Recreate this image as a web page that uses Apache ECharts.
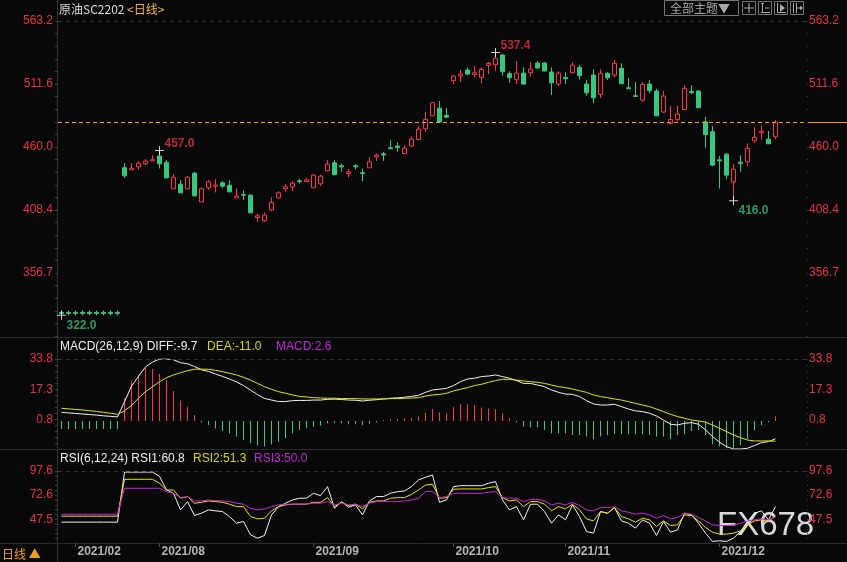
<!DOCTYPE html>
<html><head><meta charset="utf-8">
<script src="https://cdn.jsdelivr.net/npm/echarts@6/dist/echarts.min.js"></script>
<style>html,body{margin:0;padding:0;background:#090909;overflow:hidden}#c{width:847px;height:562px}</style>
</head><body><div id="c"></div>
<script>
const dates = [
'2021/01/28','2021/01/29',
'2021/02/01','2021/02/02','2021/02/03','2021/02/04','2021/02/05','2021/02/08','2021/02/09',
'2021/07/26','2021/07/27','2021/07/28','2021/07/29','2021/07/30',
'2021/08/02','2021/08/03','2021/08/04','2021/08/05','2021/08/06','2021/08/09','2021/08/10','2021/08/11','2021/08/12','2021/08/13',
'2021/08/16','2021/08/17','2021/08/18','2021/08/19','2021/08/20','2021/08/23','2021/08/24','2021/08/25','2021/08/26','2021/08/27','2021/08/30','2021/08/31',
'2021/09/01','2021/09/02','2021/09/03','2021/09/06','2021/09/07','2021/09/08','2021/09/09','2021/09/10','2021/09/13','2021/09/14',
'2021/09/15','2021/09/16','2021/09/17','2021/09/22','2021/09/23','2021/09/24','2021/09/27','2021/09/28','2021/09/29','2021/09/30',
'2021/10/08','2021/10/11','2021/10/12','2021/10/13','2021/10/14','2021/10/15','2021/10/18','2021/10/19','2021/10/20','2021/10/21',
'2021/10/22','2021/10/25','2021/10/26','2021/10/27','2021/10/28','2021/10/29',
'2021/11/01','2021/11/02','2021/11/03','2021/11/04','2021/11/05','2021/11/08','2021/11/09','2021/11/10','2021/11/11','2021/11/12',
'2021/11/15','2021/11/16','2021/11/17','2021/11/18','2021/11/19','2021/11/22','2021/11/23','2021/11/24','2021/11/25','2021/11/26','2021/11/29','2021/11/30',
'2021/12/01','2021/12/02','2021/12/03','2021/12/06','2021/12/07','2021/12/08','2021/12/09','2021/12/10','2021/12/13',
'2021/12/14','2021/12/15','2021/12/16','2021/12/17'];
const monthLabels = ['2021/02/01','2021/08/02','2021/09/01','2021/10/08','2021/11/01','2021/12/01'];

// [open, high, low, close]
const kline = [
[324.4,326.0,322.0,323.6],[324.4,326.0,322.0,323.6],[324.4,326.0,322.0,323.6],[324.4,326.0,322.0,323.6],[324.4,326.0,322.0,323.6],
[324.4,326.0,322.0,323.6],[324.4,326.0,322.0,323.6],[324.4,326.0,322.0,323.6],[324.4,326.0,322.0,323.6],
[442.9,446.7,434.7,436.3],[441.3,446.7,441.3,442.6],[443.7,448.4,441.3,446.7],[446.2,450.0,445.1,448.4],[448.6,453.3,448.6,449.5],
[452.5,457.0,442.4,446.2],[447.5,449.2,434.3,434.7],[425.7,437.7,425.5,435.2],[429.5,432.8,422.2,422.4],[425.7,436.3,425.5,435.2],
[438.5,439.6,419.5,419.9],[415.0,426.8,414.8,425.7],[426.5,433.0,424.6,431.4],[427.9,433.6,422.7,428.7],[430.6,432.0,426.5,427.9],
[428.7,432.8,423.0,423.2],[418.3,425.9,418.3,419.7],[421.0,424.3,416.4,420.5],[420.5,421.0,405.8,406.0],[402.2,405.4,398.6,403.5],
[399.4,406.3,398.6,404.1],[408.4,418.8,407.4,414.5],[418.3,423.8,417.7,422.4],[425.9,429.5,423.2,427.3],[427.3,432.0,424.0,430.3],
[432.2,433.9,430.0,431.7],[431.7,434.7,431.7,433.0],[426.5,437.7,426.5,436.9],[429.8,437.2,428.1,436.1],[440.4,449.2,440.4,445.9],
[447.0,449.2,437.2,437.2],[444.5,446.2,439.6,443.7],[438.2,441.8,435.0,439.6],[444.5,445.9,441.8,443.7],[438.8,442.3,431.9,438.2],
[442.9,451.4,442.9,447.8],[451.9,454.6,448.6,453.3],[454.4,456.0,448.6,453.4],[459.3,465.6,458.5,458.5],[460.7,463.7,456.0,459.6],
[454.6,461.2,454.1,459.0],[460.7,468.6,460.1,466.4],[466.1,477.1,465.6,474.6],[474.9,488.8,472.4,482.5],[485.5,497.0,485.5,496.2],
[491.8,497.6,480.4,480.4],[485.8,491.8,483.6,484.4],[514.3,518.9,511.5,518.1],[518.1,523.0,513.4,519.7],[523.0,525.2,518.9,519.7],
[519.4,526.3,517.0,520.8],[517.0,525.2,512.1,523.5],[526.8,529.6,519.7,528.5],[527.4,537.4,522.5,532.6],[535.3,536.1,518.4,521.6],
[520.0,521.9,512.6,516.7],[515.1,530.4,511.5,520.5],[520.5,525.2,511.5,511.5],[520.8,529.6,517.5,523.8],[528.7,530.4,524.6,524.6],
[528.7,529.6,522.2,522.2],[521.4,525.2,502.5,512.6],[511.5,521.9,509.9,520.5],[517.0,521.4,511.5,515.9],[520.8,529.3,520.8,527.1],
[525.2,527.1,515.3,518.4],[511.5,514.8,502.0,504.4],[518.9,523.6,495.7,500.3],[503.1,523.6,500.3,520.3],[520.3,521.1,514.8,516.7],
[518.9,531.2,517.0,528.5],[524.4,528.5,511.8,511.8],[508.5,516.4,507.7,507.7],[501.9,513.2,501.1,501.4],[498.4,513.4,497.0,511.2],
[511.5,514.8,503.9,506.1],[505.8,507.4,485.5,485.5],[488.6,506.1,488.0,501.7],[479.3,493.7,479.3,482.5],[482.5,493.5,480.9,486.9],
[490.7,510.7,490.7,508.0],[505.5,510.7,503.3,504.4],[505.8,506.6,492.1,492.1],[480.6,484.7,459.3,470.2],[472.4,477.1,444.5,445.1],
[449.4,452.5,425.9,448.6],[454.1,454.7,433.6,436.9],[431.4,445.9,416.0,441.8],[447.5,453.0,439.6,446.4],[447.8,462.9,444.3,458.8],
[465.0,476.0,463.4,467.8],[471.9,477.6,466.1,473.0],[466.4,473.0,462.6,462.6],[468.3,482.0,466.4,480.4]];

const diff = [4.7,4.4,4.1,3.8,3.5,3.2,2.8,2.5,2.2,
10.5,19.0,24.3,29.5,32.1,33.8,33.8,33.4,31.8,31.2,
29.7,27.9,27.0,25.6,24.3,
22.9,21.3,19.3,16.8,14.4,12.3,11.4,10.6,10.6,11.1,11.2,11.2,11.4,11.4,11.8,
11.9,11.7,11.4,11.3,10.9,11.3,11.6,12.0,12.4,12.6,12.9,13.4,14.0,
15.6,16.9,17.3,17.8,19.3,21.4,22.9,23.3,24.2,24.5,25.1,24.2,23.3,22.0,20.5,20.5,19.6,18.7,16.9,15.6,
14.7,14.5,13.3,11.1,9.3,8.7,8.7,9.1,7.8,6.5,5.5,5.1,4.2,2.7,0.5,-1.8,-2.2,-1.3,-0.9,-1.8,
-4.9,-8.5,-11.6,-14.0,-15.3,-15.3,-14.9,-13.4,-11.8,-11.3,-9.7];
const dea = [6.9,6.6,6.3,6.0,5.6,5.2,4.7,4.2,3.6,
5.5,8.4,12.4,16.0,18.7,21.4,23.6,25.1,26.3,27.4,
28.2,28.3,28.2,27.6,26.9,
26.0,25.1,23.8,22.3,20.5,18.7,17.3,16.0,15.1,14.2,13.4,13.1,12.7,12.5,12.4,
12.4,12.2,12.2,12.2,12.0,12.0,12.0,12.0,12.2,12.2,12.4,12.5,12.7,
13.6,14.2,14.5,15.1,16.4,17.3,18.2,19.3,20.0,21.1,22.0,22.7,22.7,22.3,21.8,21.4,21.1,20.5,19.6,18.7,
18.2,17.4,16.5,15.6,14.2,13.3,12.7,12.0,11.4,10.5,9.6,8.7,7.8,6.5,5.1,3.6,2.4,1.5,0.5,0.0,
-0.7,-2.2,-4.0,-5.8,-7.6,-9.1,-10.4,-10.9,-10.9,-10.9,-11.0];
const macdBar = [-4.4,-4.4,-4.4,-4.4,-4.4,-4.4,-4.4,-4.4,-4.4,
12.4,22.0,25.4,28.7,28.3,25.6,22.3,16.4,11.1,7.8,3.3,
-0.7,-2.2,-4.0,-5.5,-6.9,-8.5,-10.4,-12.2,-13.4,-14.0,-12.7,-11.3,-9.4,-6.7,-4.9,-4.0,-3.1,-2.5,-1.3,-1.3,-1.3,-1.8,-1.8,-2.2,-1.5,-0.7,
0.5,0.9,1.1,1.5,1.8,2.4,
4.5,6.5,4.7,4.2,7.8,9.3,9.1,8.7,7.3,6.9,6.5,4.2,1.5,-0.7,-3.1,-3.6,-3.6,-4.9,-6.7,-6.7,
-6.7,-7.6,-7.6,-8.5,-10.0,-8.5,-7.6,-7.3,-7.3,-7.3,-7.3,-7.3,-7.6,-8.5,-8.5,-9.8,-7.6,-7.3,-5.5,-4.9,
-7.6,-12.7,-14.0,-14.9,-14.9,-13.1,-9.8,-4.9,-2.2,-0.7,2.6];

const rsi1 = [44.6,44.6,44.6,44.6,44.6,44.6,44.6,44.6,44.6,
96.5,96.5,96.5,96.5,96.5,
92.0,78.0,74.5,57.3,65.9,51.4,53.9,57.3,56.3,55.6,50.4,43.5,45.3,31.5,28.0,30.8,52.1,60.7,64.2,67.6,69.4,69.4,
74.5,72.1,81.4,59.0,65.9,60.1,62.5,52.1,66.6,71.1,71.1,74.5,76.2,76.9,81.4,88.3,
91.1,93.5,65.2,67.6,81.4,82.4,82.4,82.4,82.4,84.9,86.6,67.6,57.3,60.7,47.0,63.2,63.2,55.6,43.5,52.1,
47.0,62.5,50.4,34.9,33.2,55.6,53.9,59.7,45.9,43.5,38.4,47.0,43.5,30.8,45.3,34.2,36.6,53.9,52.1,43.5,
33.2,24.6,25.3,24.6,28.0,34.9,45.3,53.9,56.3,47.0,60.8];
const rsi2 = [50.8,50.8,50.8,50.8,50.8,50.8,50.8,50.8,50.8,
89.0,89.0,89.0,89.0,89.0,
84.9,77.9,77.9,69.4,71.1,64.2,65.2,66.6,65.9,65.2,63.2,60.7,60.7,50.4,48.0,48.7,56.3,60.7,62.5,63.2,63.2,63.2,
65.2,65.2,70.0,60.7,65.2,61.8,63.2,58.3,65.2,66.6,66.6,69.4,70.0,70.0,73.5,77.9,
83.1,83.8,69.4,70.0,78.7,79.0,79.0,79.0,79.0,80.4,81.4,70.0,66.6,67.6,60.7,65.9,65.9,63.2,56.3,60.7,
58.3,63.2,57.3,48.0,45.9,55.6,53.9,59.7,50.4,48.0,44.6,48.7,47.0,40.1,45.9,41.1,41.8,52.1,51.4,45.9,
39.1,34.2,32.2,32.2,33.2,35.6,41.8,45.9,47.0,45.3,51.3];
const rsi3 = [52.8,52.8,52.8,52.8,52.8,52.8,52.8,52.8,52.8,
79.7,79.7,79.7,79.7,79.7,79.7,
76.2,74.5,70.0,71.1,66.6,66.6,67.6,66.9,66.6,65.9,64.2,63.2,59.0,57.3,58.3,60.7,62.5,63.2,63.2,63.2,63.5,
64.2,64.2,65.9,62.5,64.2,62.5,63.2,60.7,64.2,65.9,65.9,65.9,65.9,66.6,67.6,69.4,
76.2,76.2,70.0,71.1,74.5,74.5,74.5,74.5,74.5,75.6,76.2,70.0,69.4,69.4,65.9,68.3,68.3,66.6,62.5,64.2,
62.5,65.2,61.8,57.3,56.3,59.7,59.7,60.7,56.3,54.9,52.8,53.9,52.1,48.7,51.4,48.0,49.4,53.9,52.8,49.4,
45.9,41.8,41.1,41.1,41.8,43.5,45.9,47.0,48.0,47.0,50.0];

const mainTicks = [563.2, 511.6, 460.0, 408.4, 356.7];
const macdTicks = [33.8, 17.3, 0.8];
const rsiTicks = [97.6, 72.6, 47.5];
const extremeIdx = [14, 62, 0, 96];
const extremeVal = [457.0, 537.4, 322.0, 416.0];
const extremeIsHigh = [true, true, false, false];

const FONT = "'Liberation Sans', Arial, 'Noto Sans CJK SC', sans-serif";
const CJK = "'Noto Sans CJK SC', 'Liberation Sans', sans-serif";
const RED = '#ff3344', GREEN = '#35c97f', AXRED = '#e8303f', BG = '#090909';

function stepTicks(top, bottom, step) {
  const out = [];
  for (let v = top; v >= bottom - 1e-6; v -= step) out.push(+v.toFixed(3));
  return out;
}
function yPair(g, min, max, labels, minor) {
  const lab = { customValues: labels, color: AXRED, fontSize: 12, fontFamily: FONT,
    formatter: v => Number(v).toFixed(1) };
  const base = { type: 'value', gridIndex: g, min: min, max: max,
    splitLine: { show: false }, axisLine: { show: false } };
  return [
    Object.assign({}, base, { position: 'left', axisLabel: Object.assign({}, lab, { margin: 5 }),
      axisTick: { show: true, customValues: minor, length: 3, lineStyle: { color: '#3c3c3c' } } }),
    Object.assign({}, base, { position: 'right', axisLabel: Object.assign({}, lab, { margin: 2 }),
      axisTick: { show: true, customValues: minor, length: 1, lineStyle: { color: '#3c3c3c' } } })
  ];
}
const showLabel = (i, v) => monthLabels.indexOf(v) >= 0;

const MAIN_MIN = 305.075, MAIN_MAX = 563.2;
const yAxes = [].concat(
  yPair(0, MAIN_MIN, MAIN_MAX, mainTicks, stepTicks(MAIN_MAX, MAIN_MIN, 10.325)),
  yPair(1, -15.3, 33.8, macdTicks, stepTicks(33.8, -15.3, 3.3)),
  yPair(2, 23, 97.6, rsiTicks, stepTicks(97.6, 23, 5))
);
const xAxes = [0, 1, 2].map(g => ({
  type: 'category', gridIndex: g, data: dates, boundaryGap: true,
  axisLine: { show: false }, splitLine: { show: false },
  axisTick: { show: g === 2, alignWithLabel: true, interval: showLabel, length: 4, lineStyle: { color: '#4a4a4a' } },
  axisLabel: { show: g === 2, interval: showLabel, formatter: v => v.slice(0, 7), align: 'left',
    padding: [0, 0, 0, 2], color: '#b4b4b4', fontWeight: 'bold', fontSize: 12, fontFamily: FONT, margin: 3 }
}));

const lastClose = kline[kline.length - 1][3];
const last = a => a[a.length - 1].toFixed(1);

const chart = echarts.init(document.getElementById('c'), null, { renderer: 'canvas' });
chart.setOption({
  backgroundColor: BG,
  animation: false,
  grid: [
    { left: 58, right: 40, top: 21, height: 315 },
    { left: 58, right: 40, top: 359, height: 90 },
    { left: 58, right: 40, top: 471, height: 72 }
  ],
  xAxis: xAxes,
  yAxis: yAxes,
  series: [
    { type: 'candlestick', xAxisIndex: 0, yAxisIndex: 0, barWidth: 5,
      data: kline.map(r => [r[0], r[3], r[2], r[1]]),
      itemStyle: { color: BG, color0: GREEN, borderColor: RED, borderColor0: GREEN, borderWidth: 1 },
      markLine: { symbol: 'none', silent: true, label: { show: false },
        data: [
          { yAxis: lastClose, lineStyle: { color: '#ff9a22', type: [4, 3], width: 1 } },
          { yAxis: MAIN_MAX, lineStyle: { color: '#333', type: [4, 4], width: 1 } }
        ] } },
    { type: 'scatter', xAxisIndex: 0, yAxisIndex: 0, silent: true,
      symbol: 'path://M0,4H9V5H0ZM4,0H5V9H4Z', symbolSize: 9,
      itemStyle: { color: '#ffffff' },
      data: extremeIdx.map((ix, k) => ({ value: [ix, extremeVal[k]],
        label: { show: true, formatter: extremeVal[k].toFixed(1),
          position: extremeIsHigh[k] ? [9.5, -2.5] : [9.5, 14.5],
          align: 'left', verticalAlign: 'middle',
          color: extremeIsHigh[k] ? AXRED : '#2fc07a', fontSize: 12, fontWeight: 'bold', fontFamily: FONT } })) },
    { type: 'bar', xAxisIndex: 1, yAxisIndex: 2, barWidth: 1, silent: true,
      data: macdBar.map(v => ({ value: v, itemStyle: { color: v >= 0 ? RED : GREEN } })) },
    { type: 'line', xAxisIndex: 1, yAxisIndex: 2, data: diff, symbol: 'none', silent: true,
      lineStyle: { color: '#f2f2f2', width: 1 },
      markLine: { symbol: 'none', silent: true, label: { show: false },
        data: [{ yAxis: 33.8, lineStyle: { color: '#333', type: [4, 4], width: 1 } }] } },
    { type: 'line', xAxisIndex: 1, yAxisIndex: 2, data: dea, symbol: 'none', silent: true,
      lineStyle: { color: '#e6e600', width: 1 } },
    { type: 'line', xAxisIndex: 2, yAxisIndex: 4, data: rsi1, symbol: 'none', silent: true,
      lineStyle: { color: '#f2f2f2', width: 1 },
      markLine: { symbol: 'none', silent: true, label: { show: false },
        data: [{ yAxis: 97.6, lineStyle: { color: '#333', type: [4, 4], width: 1 } }] } },
    { type: 'line', xAxisIndex: 2, yAxisIndex: 4, data: rsi2, symbol: 'none', silent: true,
      lineStyle: { color: '#e6e600', width: 1 } },
    { type: 'line', xAxisIndex: 2, yAxisIndex: 4, data: rsi3, symbol: 'none', silent: true,
      lineStyle: { color: '#d21ee6', width: 1 } }
  ]
});

const yLast = chart.convertToPixel({ yAxisIndex: 0 }, lastClose);
const txt = (t, x, y, fill, font, extra) => ({ type: 'text', silent: true,
  style: Object.assign({ text: t, x: x, y: y, fill: fill, font: font, verticalAlign: 'middle' }, extra || {}) });
const ln = (x1, y1, x2, y2, c, w) => ({ type: 'line', silent: true,
  shape: { x1: x1, y1: y1, x2: x2, y2: y2 }, style: { stroke: c, lineWidth: w || 1 } });
const box = (x, y, w, h) => ({ type: 'rect', silent: true, shape: { x: x, y: y, width: w, height: h },
  style: { fill: 'none', stroke: '#777', lineWidth: 1 } });
const F12 = '12px ' + FONT;

chart.setOption({ graphic: [
  ln(0, 337.5, 847, 337.5, '#2a2a2a'),
  ln(0, 449.5, 847, 449.5, '#2a2a2a'),
  ln(0, 543.5, 847, 543.5, '#2a2a2a'),
  ln(57.5, 0, 57.5, 562, '#333'),
  ln(807, Math.round(yLast) + 0.5, 847, Math.round(yLast) + 0.5, '#ff9a22'),
  txt('原油SC2202', 59, 9.5, '#dcdcdc', '12px ' + CJK),
  txt('<日线>', 127, 9.5, '#f0b848', '12px ' + CJK),
  txt('MACD(26,12,9) DIFF:' + last(diff), 60, 347, '#f0f0f0', F12),
  txt('DEA:' + last(dea), 207, 347, '#d8d800', F12),
  txt('MACD:' + last(macdBar), 276, 347, '#c81ee0', F12),
  txt('RSI(6,12,24) RSI1:' + last(rsi1), 60, 459, '#f0f0f0', F12),
  txt('RSI2:' + last(rsi2), 193, 459, '#d8d800', F12),
  txt('RSI3:' + last(rsi3), 254, 459, '#c81ee0', F12),
  txt('日线 ▲', 2, 554, '#f0a020', '12px ' + CJK),
  txt('FX678', 717, 526, 'rgba(236,236,236,0.92)', '33px ' + FONT),
  box(664.5, 0.5, 74, 15),
  txt('全部主题▼', 670, 8, '#a8a8a8', '12px ' + CJK),
  box(742.5, 1.5, 13, 13), box(758.5, 1.5, 13, 13), box(774.5, 1.5, 13, 13), box(790.5, 1.5, 13, 13),
  ln(749, 3, 749, 13, '#aaa'), ln(744, 8, 754, 8, '#aaa'),
  ln(762.5, 3, 762.5, 13, '#aaa'), ln(761, 3.5, 764, 3.5, '#aaa'), ln(761, 12.5, 770, 12.5, '#aaa'), ln(765, 8, 769, 8, '#aaa'),
  ln(777.5, 3, 777.5, 13, '#aaa'), ln(777, 12.5, 786, 12.5, '#aaa'),
  { type: 'polygon', silent: true, shape: { points: [[780, 4], [785, 8], [780, 12]] }, style: { fill: '#aaa' } },
  ln(793.5, 3, 793.5, 13, '#aaa'), ln(796.5, 3, 796.5, 13, '#aaa'), ln(797, 8, 801, 8, '#aaa'),
  { type: 'polygon', silent: true, shape: { points: [[800, 5.5], [803, 8], [800, 10.5]] }, style: { fill: '#aaa' } }
] });
</script>
</body></html>
